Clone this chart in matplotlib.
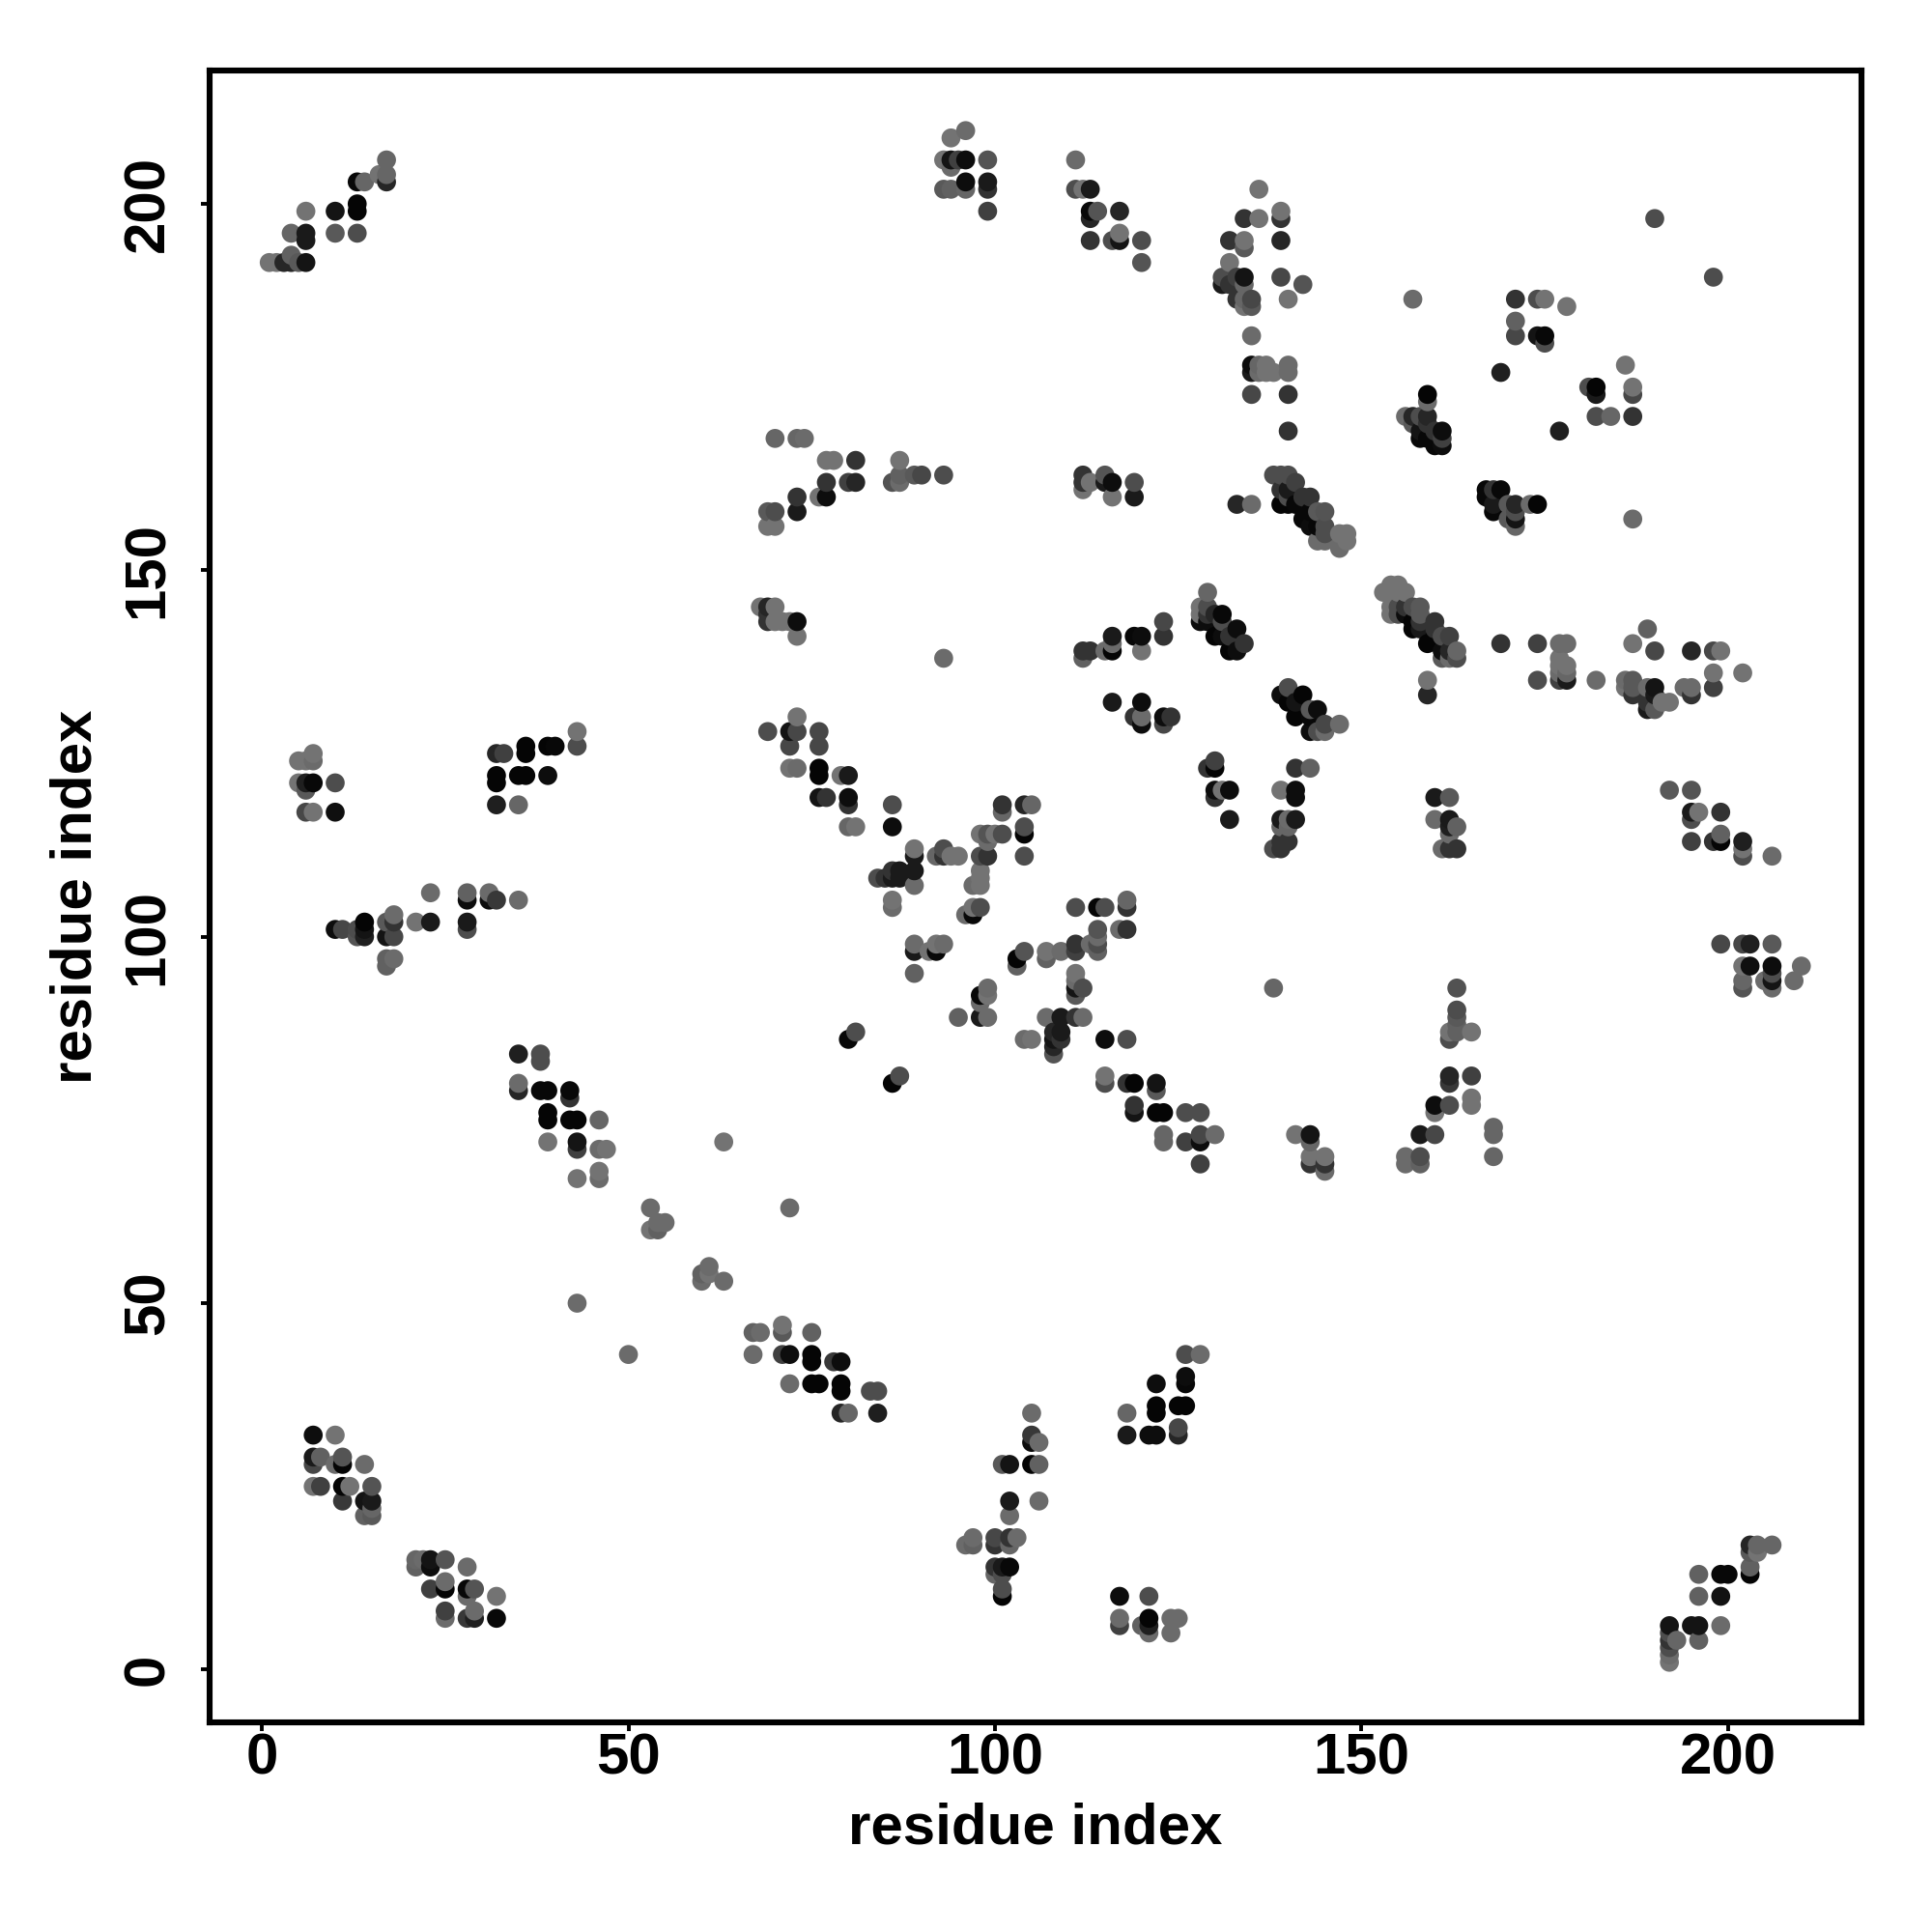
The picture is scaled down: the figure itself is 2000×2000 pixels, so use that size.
import matplotlib
matplotlib.use('Agg')
import matplotlib.pyplot as plt

plt.rcParams['font.family'] = ['Liberation Sans', 'DejaVu Sans']

# contacts as (residue i, residue j, gray level)
top_left = [(17,206,.4),(17,204,.4),(17,203,.15),(16,204,.45),(14,203,.4),(13,203,.03),(13,200,.02),(13,199,.02),
    (10,199,.08),(6,199,.45),(10,196,.35),(13,196,.3),(4,196,.4),(6,196,.1),(6,195,.1),(4,193,.38),(6,192,.08),
    (1,192,.45),(2,192,.45),(3,192,.15),(4,192,.15),(5,192,.35)]
top_middle = [(96,210,.42),(94,209,.45),(93,206,.45),(94,206,.08),(95,206,.25),(96,206,.05),(99,206,.33),(94,205,.42),
    (93,202,.35),(94,202,.38),(96,202,.4),(96,203,.05),(99,203,.1),(99,202,.2),(99,199,.25),(111,206,.42),(111,202,.3),
    (112,202,.45),(113,202,.1),(113,199,.03),(113,198,.15),(114,199,.33),(117,199,.15),(113,195,.2),(116,195,.3),
    (117,195,.08),(117,196,.45),(120,195,.3),(120,192,.33)]
top_cluster = [(136,202,.45),(134,198,.2),(136,198,.45),(139,198,.2),(139,199,.45),(132,195,.2),(134,195,.45),(134,194,.35),
    (139,195,.15),(132,192,.45),(131,190,.3),(131,189,.1),(133,190,.25),(134,190,.08),(134,189,.4),(132,189,.2),
    (133,187,.2),(134,186,.45),(135,187,.28),(135,186,.35),(134,187,.4),(139,190,.28),(140,187,.45),(135,182,.42),
    (135,178,.05),(135,177,.1),(136,178,.4),(136,177,.42),(137,178,.45),(137,177,.45),(138,177,.45),(140,178,.42),
    (140,177,.42),(135,174,.28),(140,174,.2),(140,169,.2),(142,189,.33)]
band_165 = [(70,168,.4),(73,168,.4),(74,168,.42),(77,165,.45),(78,165,.45),(81,165,.2),(87,165,.45),(77,162,.2),(80,162,.25),
    (81,162,.15),(86,162,.32),(87,162,.42),(89,163,.35),(90,163,.28),(93,163,.3),(87,163,.38),(73,160,.2),(76,160,.45),
    (77,160,.05),(73,158,.1),(69,158,.35),(70,158,.3),(69,156,.45),(70,156,.45),
    (112,163,.2),(112,162,.2),(112,161,.45),(113,162,.45),(115,163,.33),(115,162,.1),(116,162,.05),(116,160,.45),
    (119,162,.3),(119,160,.1),(133,159,.15),(135,159,.42)]
band_145 = [(68,145,.45),(69,145,.15),(70,145,.45),(69,144,.2),(69,143,.2),(70,143,.45),(72,143,.45),(71,143,.45),(73,143,.05),
    (73,141,.45),(93,138,.42),(112,139,.2),(113,139,.2),(112,138,.38),(115,139,.42),(116,141,.1),(116,139,.02),
    (116,140,.42),(119,141,.03),(120,141,.05),(120,139,.45),(123,143,.28),(123,141,.2),
    (129,147,.4),(128,145,.45),(128,144,.45),(129,145,.3),(129,144,.2),(128,143,.05),(129,143,.05),(130,144,.15),
    (131,144,.03),(131,143,.3),(133,142,.05),(130,141,.02),(133,139,.05),(132,139,.02),(134,140,.2),(132,141,.2),(131,141,.05)]
middle_a = [(116,132,.1),(120,132,.05),(120,130,.42),(119,130,.2),(120,129,.05),(123,130,.05),(124,130,.2),(123,129,.28),
    (73,130,.45),(69,128,.3),(72,128,.08),(73,128,.28),(76,128,.28),(76,126,.28),(72,126,.28),(72,123,.45),(73,123,.42),
    (76,123,.02),(76,122,.02),(79,122,.45),(80,122,.1),(76,119,.08),(77,119,.2),(80,119,.05),(80,118,.2),(80,115,.4),
    (81,115,.45),(86,118,.3),(86,115,.05),
    (89,112,.45),(89,111,.1),(89,109,.1),(89,107,.42),(84,108,.3),(86,108,.1),(86,109,.2),(87,109,.1),(87,108,.1),
    (85,108,.2),(86,105,.45),(86,104,.42),(92,111,.4),(93,112,.3),(93,111,.2),(94,111,.45),(95,111,.45)]
middle_b = [(98,114,.45),(99,114,.33),(100,114,.45),(101,114,.3),(99,113,.42),(98,111,.3),(99,111,.2),(98,109,.45),(98,107,.45),
    (97,107,.42),(98,108,.45),(101,118,.2),(101,117,.4),(104,118,.15),(105,118,.4),(104,115,.3),(104,114,.02),(104,111,.3),
    (97,104,.45),(98,104,.3),(97,103,.03),(96,103,.42),(89,99,.42),(89,98,.1),(92,98,.03),(91,98,.45),(92,99,.45),(93,99,.42),
    (89,95,.38),(103,97,.02),(104,98,.33),(103,96,.38),(107,98,.45),(107,97,.38),(109,98,.42),(111,99,.2),(111,98,.25),
    (113,99,.42),(114,101,.33),(114,100,.42),(114,99,.3),(114,98,.38),(111,104,.3),(114,104,.02),(115,104,.3),(118,105,.4),
    (118,104,.2),(117,101,.42),(118,101,.2)]
middle_c = [(111,95,.45),(111,93,.08),(112,93,.3),(111,92,.35),(111,94,.42),(99,93,.42),(98,92,.03),(99,92,.45),(98,91,.42),
    (95,89,.38),(98,89,.1),(99,89,.42),(107,89,.42),(109,89,.1),(111,89,.2),(112,89,.42),(108,87,.15),(109,87,.1),(108,86,.08),
    (109,86,.2),(108,85,.15),(108,84,.33),(104,86,.42),(105,86,.45),(115,86,.05),(118,86,.3),(80,86,.03),(81,87,.3),(86,80,.02),
    (87,81,.3),(115,81,.45),(115,80,.3),(118,80,.2),(119,80,.02),(122,80,.08),(122,79,.35),(119,77,.2),(119,76,.08),(122,76,.02),
    (123,76,.02),(126,76,.3),(128,76,.3),(123,73,.4),(123,72,.4),(126,72,.25),(128,73,.28),(128,72,.05),(130,73,.42),(128,69,.25),
    (138,93,.4)]
center_right = [(130,124,.25),(129,123,.2),(130,123,.02),(130,120,.05),(131,120,.45),(132,120,.05),(130,119,.2),(132,116,.1),
    (139,120,.45),(139,116,.1),(140,116,.42),(139,115,.4),(139,113,.2),(138,112,.3),(139,112,.2),(141,123,.2),(143,123,.38),
    (141,120,.05),(141,119,.05),(141,116,.1),(140,115,.4),(140,113,.2),
    (139,133,.05),(140,134,.3),(142,133,.02),(144,131,.05),(141,130,.02),(143,131,.35),(143,128,.05),(145,129,.28),(145,128,.42),
    (147,129,.42),(144,128,.3),(140,132,.02),(143,130,.03),(141,132,.08)]
right_band = [(159,135,.45),(159,133,.15),(169,140,.2),(174,140,.25),(177,140,.42),(178,140,.42),(174,135,.3),(177,138,.45),
    (177,137,.45),(178,137,.45),(177,135,.25),(178,135,.1),(177,136,.42),(178,136,.4),(182,135,.42),(189,142,.38),(187,140,.45),
    (190,139,.28),(195,139,.15),(198,139,.28),(199,139,.45),(198,136,.45),(202,136,.45),(198,134,.25),(195,133,.2),(194,134,.42),
    (195,134,.42),(186,135,.42),(187,135,.35),(186,134,.45),(187,134,.35),(187,133,.2),(189,134,.42),(190,134,.08),(190,133,.1),
    (189,132,.2),(191,132,.45),(192,132,.45),(189,131,.1),(190,131,.35)]
right_middle = [(160,119,.1),(162,119,.35),(160,116,.42),(162,116,.1),(162,115,.12),(163,115,.38),(162,114,.42),(161,112,.42),
    (162,112,.2),(163,112,.2),(192,120,.35),(195,120,.33),(195,117,.1),(195,116,.3),(196,117,.45),(199,117,.2),(195,113,.25),
    (198,113,.2),(199,114,.38),(199,113,.02),(202,113,.12),(202,112,.45),(202,111,.3),(206,111,.42),
    (199,99,.28),(202,99,.28),(203,99,.12),(206,99,.35),(202,96,.45),(203,96,.06),(206,96,.05),(206,95,.3),(206,94,.08),
    (205,94,.42),(206,93,.42),(210,96,.42),(209,94,.42),(202,94,.4),(202,93,.33)]
right_lower = [(163,93,.32),(163,90,.3),(163,89,.35),(163,88,.38),(162,87,.45),(163,87,.38),(162,86,.3),(165,87,.45),(162,81,.15),
    (162,80,.22),(165,81,.25),(160,77,.05),(162,77,.3),(160,76,.45),(165,78,.45),(165,77,.45),(141,73,.45),(143,73,.08),(143,72,.4),
    (158,73,.1),(160,73,.28),(168,74,.4),(168,73,.4),(143,70,.45),(143,69,.2),(145,70,.45),(145,69,.2),(145,68,.42),(156,70,.42),
    (156,69,.42),(158,70,.3),(158,69,.38),(168,70,.4)]
lower_left = [(43,67,.45),(46,68,.45),(46,67,.42),(39,72,.45),(43,72,.08),(43,71,.25),(46,71,.42),(47,71,.45),(46,75,.4),(63,72,.45),
    (53,63,.42),(55,61,.42),(54,61,.42),(53,60,.45),(54,60,.38),(61,55,.42),(60,54,.38),(61,54,.45),(60,53,.42),(63,53,.42),
    (43,50,.42),(50,43,.42),(67,43,.42),(67,46,.38),(68,46,.42),
    (7,32,.05),(10,32,.45),(7,29,.1),(7,28,.28),(8,29,.38),(11,29,.33),(11,28,.02),(10,28,.42),(14,28,.42),(7,25,.45),(8,25,.25),
    (11,25,.02),(12,25,.45),(15,25,.33),(11,23,.22),(14,23,.08),(15,23,.1),(14,21,.38),(15,21,.35),(15,22,.4),
    (21,15,.4),(21,14,.38),(22,15,.42),(23,15,.08),(23,14,.05),(25,15,.33),(28,14,.42),(23,11,.25),(25,12,.42),(25,11,.02),
    (28,11,.03),(29,11,.33),(28,10,.42),(32,10,.45),(25,8,.25),(25,7,.42),(28,7,.22),(29,8,.42),(29,7,.12),(32,7,.03)]
left_middle = [(7,125,.45),(5,124,.45),(6,124,.45),(7,124,.42),(5,121,.45),(6,121,.12),(7,121,.03),(6,120,.35),(10,121,.3),
    (6,117,.28),(7,117,.45),(10,117,.06),(32,125,.15),(33,125,.25),(36,126,.02),(36,125,.02),(39,126,.02),(40,126,.03),
    (43,128,.45),(43,126,.3),(32,122,.02),(32,121,.02),(35,122,.02),(36,122,.02),(39,122,.05),(32,118,.12),(35,118,.4),
    (23,106,.42),(28,106,.38),(28,105,.05),(31,106,.42),(31,105,.05),(32,105,.22),(35,105,.42),(10,101,.05),(11,101,.28),
    (14,102,.02),(14,101,.08),(14,100,.12),(13,101,.3),(13,100,.33),(17,102,.35),(18,103,.42),(18,102,.2),(17,100,.08),
    (18,100,.28),(21,102,.45),(23,102,.1),(28,102,.1),(28,101,.3),(17,97,.38),(18,97,.42),(17,96,.38),
    (35,84,.12),(38,84,.3),(38,83,.3),(35,80,.42),(35,79,.15),(38,79,.03),(39,79,.03),(42,79,.03),(42,78,.2),(39,76,.02),
    (39,75,.02),(42,75,.02),(43,75,.02)]
bottom_middle = [(72,63,.42),(71,47,.45),(71,46,.35),(75,46,.38),(71,43,.25),(72,43,.05),(75,43,.02),(75,42,.02),(78,42,.22),
    (79,42,.05),(72,39,.42),(75,39,.02),(76,39,.02),(79,39,.02),(79,38,.02),(83,38,.3),(84,38,.3),(79,35,.15),(80,35,.4),(84,35,.12),
    (105,35,.42),(105,32,.22),(106,31,.42),(105,31,.05),(101,28,.35),(102,28,.08),(105,28,.02),(106,28,.38),(102,23,.1),(106,23,.42),
    (102,21,.42),(97,18,.42),(96,17,.42),(97,17,.38),(100,18,.28),(100,17,.2),(102,18,.2),(103,18,.42),(102,17,.4),(100,14,.2),
    (101,14,.1),(102,14,.03),(100,13,.4),(101,13,.3),(101,11,.3),(101,10,.02),
    (117,10,.05),(121,10,.3),(117,7,.42),(117,6,.25),(120,6,.38),(121,7,.02),(121,6,.12),(121,5,.42),(124,7,.42),(125,7,.42),(124,5,.42),
    (126,43,.3),(128,43,.42),(126,40,.05),(126,39,.03),(122,39,.05),(122,36,.02),(122,35,.02),(125,36,.02),(126,36,.02),(118,35,.4),
    (118,32,.1),(121,32,.05),(122,32,.05),(125,33,.28),(125,32,.15)]
bottom_right = [(192,6,.08),(192,5,.3),(192,4,.2),(193,4,.4),(192,3,.3),(192,2,.42),(192,1,.45),(195,6,.08),(196,6,.08),(196,4,.38),
    (199,6,.42),(196,13,.38),(196,10,.38),(199,10,.07),(199,13,.03),(200,13,.03),(203,13,.02),(203,14,.38),(203,17,.15),(204,17,.4),
    (206,17,.4),(204,16,.45),(203,16,.35)]
upper_right = [(190,198,.3),(198,190,.3),(157,187,.42),(171,187,.2),(174,187,.3),(175,187,.45),(178,186,.45),(171,184,.38),(171,182,.28),
    (174,182,.08),(175,182,.03),(175,181,.3),(169,177,.12),(159,174,.02),(159,173,.42),(186,178,.45),(181,175,.3),(182,175,.02),
    (182,174,.1),(187,175,.45),(187,174,.28),(182,171,.3),(184,171,.4),(187,171,.2),(177,169,.12),(187,157,.42),
    (156,171,.42),(157,171,.15),(158,171,.3),(159,171,.15),(157,170,.35),(158,169,.08),(159,170,.2),(158,168,.03),(159,168,.03),
    (161,169,.05),(160,169,.2),(161,168,.25),(160,167,.03),(161,167,.05),
    (167,161,.03),(168,161,.2),(169,161,.03),(167,160,.03),(168,159,.1),(170,159,.35),(171,159,.15),(173,159,.42),(174,159,.02),
    (168,158,.03),(170,157,.35),(171,158,.3),(171,157,.08),(171,156,.4)]
diagonals = [(138,163,.3),(139,163,.3),(139,161,.2),(140,161,.1),(140,163,.3),(141,162,.25),(143,160,.2),(142,160,.2),(140,160,.3),
    (140,159,.02),(139,159,.02),(142,157,.03),(145,158,.33),(144,158,.35),(145,156,.3),(145,155,.3),(144,154,.42),(145,154,.42),
    (147,155,.45),(148,155,.45),(147,153,.42),(148,154,.45),(141,159,.03),(143,158,.03),(144,156,.03),(143,156,.05),
    (153,147,.45),(154,148,.45),(155,148,.45),(156,147,.45),(155,147,.45),(154,145,.45),(154,144,.45),(155,145,.3),(155,144,.3),
    (156,145,.2),(156,144,.05),(157,145,.3),(158,145,.35),(158,144,.35),(160,143,.2),(157,143,.02),(158,143,.2),(157,142,.02),
    (159,140,.02),(158,142,.1),(160,142,.2),(161,141,.3),(160,141,.02),(161,139,.05),(162,141,.25),(163,139,.4),(161,138,.35),
    (162,138,.42),(163,138,.3),(162,139,.15)]

points = (top_left + top_middle + top_cluster + band_165 + band_145 + middle_a + middle_b + middle_c + center_right
          + right_band + right_middle + right_lower + lower_left + left_middle + bottom_middle + bottom_right
          + upper_right + diagonals)
# later residues are painted over earlier ones
points = sorted(points, key=lambda p: (p[0], p[1]))

x = [p[0] for p in points]
y = [p[1] for p in points]
gray = [(p[2], p[2], p[2]) for p in points]

ticks = [0, 50, 100, 150, 200]

fig = plt.figure(figsize=(10, 10), dpi=200)
ax = fig.add_axes([217/2000, 1 - 1783/2000, 1710/2000, 1710/2000])
ax.scatter(x, y, s=50, c=gray, linewidths=0)
ax.set_xlim(-7.13, 218.2)
ax.set_ylim(-7.2, 218.2)
ax.set_xticks(ticks)
ax.set_yticks(ticks)
ax.tick_params(axis='x', width=1.4, length=3.4, labelsize=21.6, pad=0.5)
ax.tick_params(axis='y', width=1.4, length=3.4, labelsize=21.6, pad=9.5)
for label in ax.get_xticklabels():
    label.set_fontweight('bold')
for label in ax.get_yticklabels():
    label.set_fontweight('bold')
    label.set_rotation(90)
    label.set_va('center')
for spine in ax.spines.values():
    spine.set_linewidth(2.2)
ax.set_xlabel('residue index', fontsize=21.6, fontweight='bold', va='center')
ax.set_ylabel('residue index', fontsize=21.6, fontweight='bold', va='center')
ax.xaxis.set_label_coords(0.5, -0.0643)
ax.yaxis.set_label_coords(-0.0807, 0.5)
fig.savefig('out.png', dpi=200)
